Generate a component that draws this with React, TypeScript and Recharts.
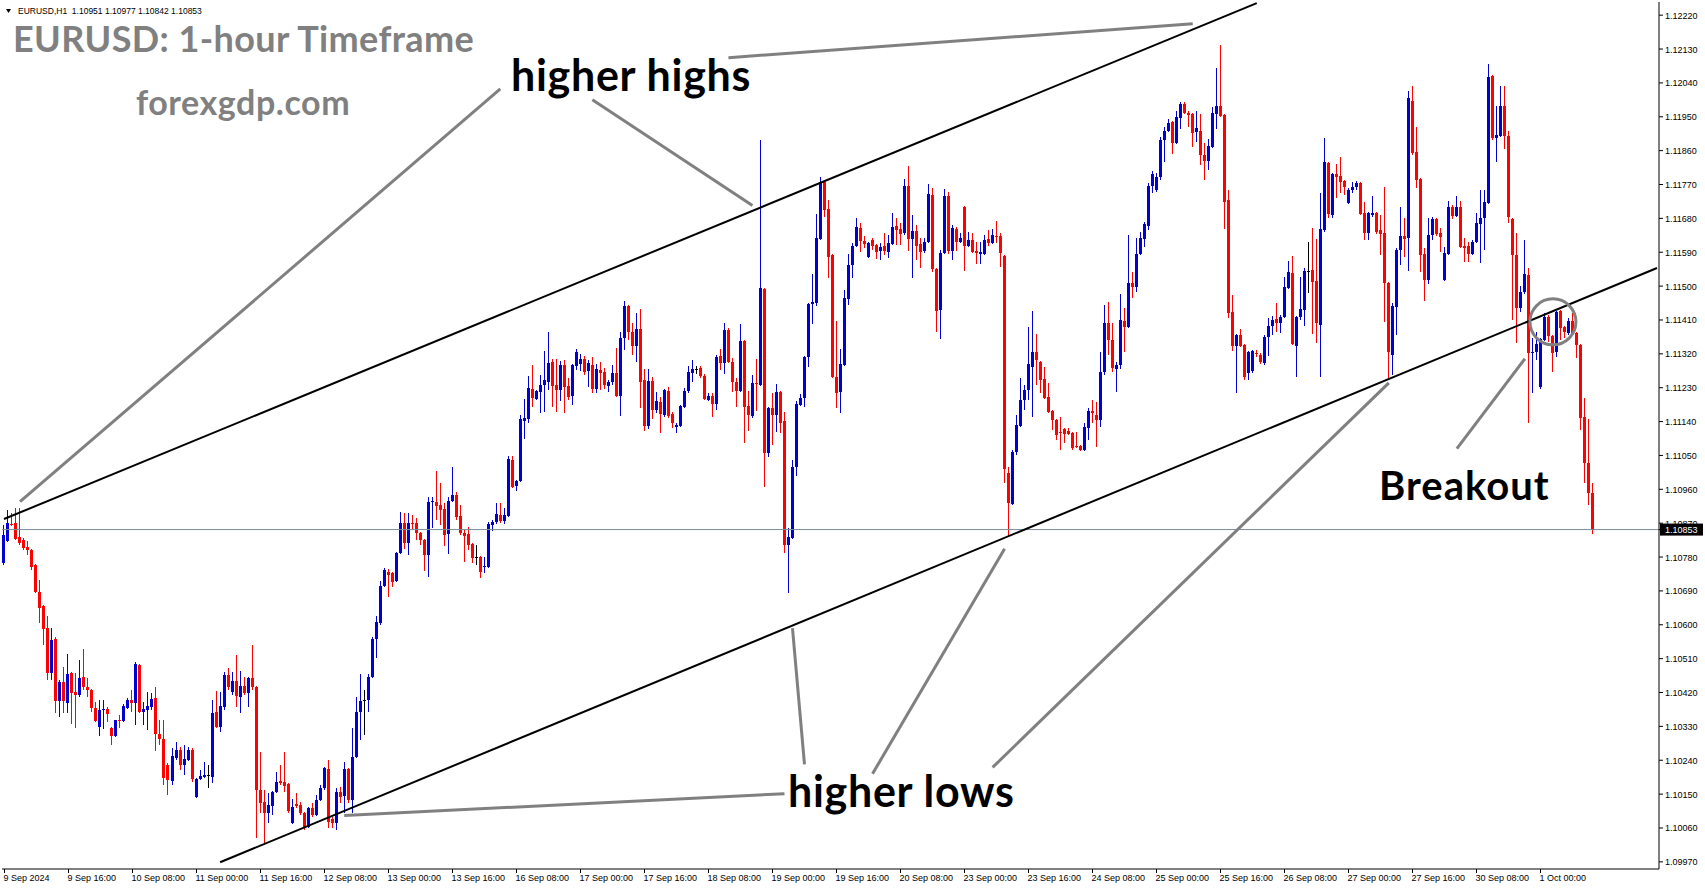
import React from "react";
import {
  ComposedChart,
  Bar,
  XAxis,
  YAxis,
  ReferenceLine,
  ReferenceDot,
} from "recharts";

// hourly EURUSD candles, 9 Sep 2024 00:00 .. 1 Oct 2024 13:00
const OPEN = [
  1.10764, 1.10823, 1.10868, 1.10871, 1.10833, 1.10826, 1.10807, 1.10799, 1.10759, 1.10688,
  1.1065, 1.10592, 1.10472, 1.10563, 1.10398, 1.10449, 1.10393, 1.10472, 1.10422, 1.10414,
  1.10461, 1.10435, 1.10427, 1.1038, 1.10328, 1.10374, 1.10377, 1.10326, 1.10305, 1.10347,
  1.10344, 1.1038, 1.10401, 1.10393, 1.10494, 1.10369, 1.10374, 1.10382, 1.10406, 1.1031,
  1.10297, 1.10228, 1.10185, 1.10247, 1.10268, 1.10228, 1.10241, 1.10268, 1.10142, 1.10191,
  1.10196, 1.10202, 1.10196, 1.10369, 1.10328, 1.10382, 1.10467, 1.10422, 1.10451, 1.10408,
  1.10438, 1.10419, 1.10459, 1.10435, 1.10161, 1.1013, 1.101, 1.10119, 1.10156, 1.10185,
  1.10183, 1.10177, 1.10074, 1.10124, 1.10122, 1.101, 1.10063, 1.10114, 1.10095, 1.10135,
  1.10167, 1.10217, 1.10084, 1.10074, 1.10156, 1.10145, 1.10217, 1.10135, 1.10249, 1.10369,
  1.10401, 1.10401, 1.10461, 1.10563, 1.10605, 1.10703, 1.10741, 1.10738, 1.10716, 1.10791,
  1.10871, 1.10818, 1.10871, 1.10871, 1.10844, 1.10826, 1.10786, 1.10927, 1.10927, 1.10919,
  1.10908, 1.10841, 1.10929, 1.10945, 1.10889, 1.10844, 1.10841, 1.10815, 1.1078, 1.1078,
  1.10753, 1.10753, 1.10866, 1.10874, 1.10892, 1.10876, 1.10889, 1.11038, 1.10969, 1.10982,
  1.11142, 1.11147, 1.11227, 1.112, 1.11219, 1.11238, 1.11246, 1.11299, 1.11238, 1.11224,
  1.11291, 1.11235, 1.11208, 1.11288, 1.11293, 1.11306, 1.11274, 1.11291, 1.11227, 1.11277,
  1.11272, 1.11235, 1.11246, 1.11269, 1.11208, 1.11362, 1.11447, 1.11379, 1.11341, 1.11386,
  1.11251, 1.11129, 1.11248, 1.11171, 1.11193, 1.11158, 1.11221, 1.1116, 1.11126, 1.11129,
  1.11179, 1.11221, 1.11269, 1.1128, 1.11283, 1.11261, 1.11198, 1.11208, 1.11187, 1.11314,
  1.11296, 1.11384, 1.11299, 1.11246, 1.11221, 1.11354, 1.11182, 1.11155, 1.11243, 1.11238,
  1.11493, 1.11057, 1.11177, 1.11158, 1.11219, 1.11142, 1.10813, 1.10831, 1.11019, 1.11185,
  1.11203, 1.11311, 1.11452, 1.11455, 1.11626, 1.11777, 1.11705, 1.11583, 1.11259, 1.11219,
  1.11291, 1.11466, 1.11557, 1.11607, 1.11655, 1.1162, 1.11577, 1.11623, 1.1161, 1.11593,
  1.11607, 1.11591, 1.11612, 1.1166, 1.11652, 1.11641, 1.11766, 1.11626, 1.11647, 1.11612,
  1.11593, 1.11618, 1.11743, 1.11546, 1.11437, 1.11588, 1.1174, 1.11593, 1.11652, 1.11618,
  1.1171, 1.11607, 1.11623, 1.11593, 1.11585, 1.11585, 1.11626, 1.11615, 1.11633, 1.11633,
  1.1158, 1.11004, 1.10921, 1.1106, 1.11129, 1.11198, 1.11224, 1.11285, 1.11325, 1.11299,
  1.11253, 1.11206, 1.11168, 1.11145, 1.11113, 1.11121, 1.11115, 1.1111, 1.11075, 1.11075,
  1.11065, 1.11124, 1.11168, 1.11158, 1.11145, 1.11272, 1.11402, 1.11357, 1.1128, 1.11291,
  1.11407, 1.11391, 1.11508, 1.11498, 1.11585, 1.11626, 1.1166, 1.11766, 1.11756, 1.1179,
  1.11888, 1.11912, 1.11936, 1.1188, 1.11947, 1.11984, 1.1196, 1.11957, 1.1191, 1.11912,
  1.11849, 1.11832, 1.11869, 1.11957, 1.11979, 1.11955, 1.11729, 1.11431, 1.11341, 1.11371,
  1.11344, 1.11269, 1.11274, 1.11322, 1.11317, 1.11296, 1.11365, 1.11394, 1.11413, 1.11402,
  1.11418, 1.11495, 1.11535, 1.11341, 1.11418, 1.11437, 1.1154, 1.11543, 1.11513, 1.11397,
  1.11649, 1.11827, 1.11689, 1.11798, 1.11793, 1.11779, 1.11721, 1.11756, 1.11764, 1.11774,
  1.11694, 1.11641, 1.11689, 1.11694, 1.11649, 1.11641, 1.11508, 1.11317, 1.11444, 1.11596,
  1.11633, 1.11628, 1.11992, 1.11857, 1.11785, 1.11585, 1.11516, 1.11636, 1.11678, 1.11641,
  1.11516, 1.11585, 1.1171, 1.11686, 1.1171, 1.11607, 1.11607, 1.11585, 1.11618, 1.11665,
  1.11681, 1.11721, 1.12058, 1.11893, 1.11899, 1.11979, 1.11899, 1.11678, 1.11583, 1.11442,
  1.11485, 1.1153, 1.11322, 1.11325, 1.11232, 1.11357, 1.11418, 1.11368, 1.11325, 1.11434,
  1.11392, 1.11376, 1.11407, 1.11376, 1.11344, 1.11153, 1.1103, 1.10951,
];

const HIGH = [
  1.10866, 1.10905, 1.10897, 1.10911, 1.10911, 1.10831, 1.10823, 1.10802, 1.10761, 1.10719,
  1.10653, 1.10624, 1.10592, 1.10568, 1.10454, 1.10488, 1.10522, 1.10475, 1.10472, 1.10507,
  1.10536, 1.10459, 1.1043, 1.10396, 1.10401, 1.10401, 1.10382, 1.10328, 1.10326, 1.10361,
  1.1039, 1.10406, 1.10427, 1.10502, 1.10496, 1.10396, 1.10422, 1.10419, 1.10435, 1.10347,
  1.10347, 1.10233, 1.10273, 1.10289, 1.10275, 1.10281, 1.10275, 1.10273, 1.10194, 1.10215,
  1.10236, 1.10228, 1.10401, 1.10424, 1.10422, 1.10475, 1.10486, 1.10475, 1.1052, 1.10477,
  1.10461, 1.10461, 1.10547, 1.10438, 1.10263, 1.10161, 1.10153, 1.10158, 1.1021, 1.10228,
  1.10263, 1.1018, 1.10137, 1.10153, 1.1013, 1.10103, 1.10116, 1.10127, 1.10148, 1.10175,
  1.10222, 1.10241, 1.10089, 1.10167, 1.10169, 1.10236, 1.1022, 1.10326, 1.10408, 1.10469,
  1.10427, 1.10469, 1.10568, 1.10624, 1.10716, 1.10751, 1.10748, 1.10741, 1.10794, 1.109,
  1.10897, 1.10897, 1.10892, 1.10884, 1.10847, 1.10828, 1.1094, 1.1094, 1.11009, 1.10977,
  1.10924, 1.1094, 1.11019, 1.10953, 1.10919, 1.10852, 1.1086, 1.10818, 1.10813, 1.10783,
  1.1078, 1.10874, 1.10879, 1.10924, 1.10924, 1.10911, 1.11049, 1.11049, 1.10985, 1.11158,
  1.112, 1.11261, 1.1129, 1.11224, 1.11264, 1.11327, 1.11379, 1.11306, 1.11306, 1.11301,
  1.11304, 1.11256, 1.11293, 1.11333, 1.11319, 1.11314, 1.11304, 1.11311, 1.11293, 1.11299,
  1.11283, 1.11251, 1.11291, 1.11336, 1.11379, 1.1146, 1.1145, 1.11402, 1.11429, 1.11439,
  1.1128, 1.1128, 1.11259, 1.11219, 1.11206, 1.11227, 1.11232, 1.11166, 1.11137, 1.11185,
  1.1123, 1.11288, 1.11304, 1.11288, 1.11288, 1.11266, 1.11216, 1.11216, 1.11317, 1.11333,
  1.11402, 1.11389, 1.11309, 1.11256, 1.11399, 1.11357, 1.11221, 1.11264, 1.11306, 1.11888,
  1.11495, 1.11179, 1.11216, 1.1124, 1.11221, 1.11166, 1.10858, 1.11038, 1.11195, 1.11214,
  1.11314, 1.11455, 1.11532, 1.11691, 1.1179, 1.11782, 1.11729, 1.11585, 1.11407, 1.11333,
  1.1149, 1.11585, 1.11615, 1.11681, 1.11668, 1.11633, 1.11618, 1.11628, 1.11612, 1.11615,
  1.11641, 1.11636, 1.11694, 1.11681, 1.11668, 1.11785, 1.11819, 1.11689, 1.11663, 1.11628,
  1.11628, 1.11772, 1.11761, 1.11548, 1.11596, 1.11758, 1.11751, 1.11663, 1.11657, 1.11641,
  1.11713, 1.11644, 1.11641, 1.11618, 1.11618, 1.11636, 1.11649, 1.11652, 1.11673, 1.11641,
  1.11583, 1.11019, 1.11065, 1.11158, 1.11256, 1.11237, 1.11391, 1.11434, 1.11373, 1.11301,
  1.11285, 1.11243, 1.11171, 1.11147, 1.11152, 1.11123, 1.11123, 1.11113, 1.11113, 1.11078,
  1.11137, 1.11177, 1.11198, 1.11193, 1.11325, 1.1145, 1.11458, 1.11402, 1.11299, 1.11479,
  1.11442, 1.11636, 1.11538, 1.11628, 1.11644, 1.1167, 1.11774, 1.11806, 1.11801, 1.11896,
  1.11923, 1.11944, 1.11939, 1.11965, 1.11989, 1.11989, 1.11965, 1.1196, 1.11965, 1.11957,
  1.1188, 1.11891, 1.11976, 1.1208, 1.12141, 1.11957, 1.11756, 1.11477, 1.11373, 1.11386,
  1.11346, 1.11328, 1.1133, 1.1133, 1.11322, 1.11371, 1.11416, 1.11421, 1.11455, 1.11424,
  1.11524, 1.11567, 1.1158, 1.11421, 1.11524, 1.11548, 1.11618, 1.11655, 1.11626, 1.11748,
  1.11894, 1.1183, 1.11801, 1.11824, 1.11843, 1.11782, 1.11761, 1.11777, 1.11779, 1.11777,
  1.11724, 1.11697, 1.1174, 1.11697, 1.11689, 1.11764, 1.11511, 1.11455, 1.11601, 1.1171,
  1.11681, 1.12018, 1.12032, 1.11923, 1.11788, 1.11601, 1.11681, 1.11684, 1.11681, 1.11655,
  1.11604, 1.11726, 1.11716, 1.1174, 1.11726, 1.11628, 1.11618, 1.11623, 1.11694, 1.11756,
  1.11756, 1.1209, 1.12061, 1.11979, 1.12032, 1.12032, 1.11912, 1.11681, 1.11641, 1.115,
  1.11623, 1.11548, 1.11362, 1.11378, 1.11362, 1.11429, 1.11424, 1.11371, 1.11434, 1.11437,
  1.11394, 1.11416, 1.11429, 1.11379, 1.11346, 1.11203, 1.11147, 1.10977,
];

const LOW = [
  1.10759, 1.10821, 1.10863, 1.10826, 1.10813, 1.10799, 1.10786, 1.10746, 1.10685, 1.10605,
  1.10547, 1.10454, 1.10454, 1.10366, 1.10355, 1.10366, 1.10366, 1.10336, 1.10326, 1.10408,
  1.10427, 1.10408, 1.10369, 1.10342, 1.10305, 1.10323, 1.10342, 1.10281, 1.10302, 1.10326,
  1.10342, 1.10377, 1.10369, 1.10334, 1.10366, 1.10334, 1.10321, 1.10374, 1.10265, 1.10281,
  1.10175, 1.10148, 1.10175, 1.10241, 1.10215, 1.10202, 1.10238, 1.10183, 1.1014, 1.10188,
  1.10194, 1.10167, 1.1018, 1.10326, 1.10316, 1.10374, 1.10427, 1.10414, 1.10382, 1.10366,
  1.10414, 1.10382, 1.10427, 1.10034, 1.101, 1.10021, 1.10074, 1.10095, 1.10153, 1.10175,
  1.10156, 1.101, 1.10071, 1.10114, 1.10095, 1.10055, 1.1006, 1.10089, 1.10092, 1.10132,
  1.10161, 1.10061, 1.10061, 1.10055, 1.10127, 1.101, 1.10127, 1.101, 1.10247, 1.10294,
  1.10308, 1.10369, 1.10459, 1.10512, 1.106, 1.107, 1.10674, 1.107, 1.10714, 1.10788,
  1.10802, 1.10786, 1.10852, 1.10826, 1.10813, 1.10743, 1.10727, 1.10858, 1.10879, 1.10866,
  1.1081, 1.10788, 1.10927, 1.10879, 1.10839, 1.10767, 1.10799, 1.10764, 1.10759, 1.10724,
  1.10738, 1.10751, 1.10849, 1.10868, 1.10871, 1.10868, 1.10887, 1.10964, 1.10956, 1.1098,
  1.11094, 1.11137, 1.11179, 1.11198, 1.11163, 1.11166, 1.11224, 1.11179, 1.11166, 1.11195,
  1.11163, 1.11198, 1.11185, 1.11277, 1.11274, 1.11264, 1.11232, 1.11216, 1.11216, 1.11224,
  1.11227, 1.11219, 1.11238, 1.11205, 1.11155, 1.1133, 1.11357, 1.11317, 1.11299, 1.11177,
  1.11115, 1.11121, 1.11147, 1.11163, 1.1111, 1.11152, 1.1115, 1.11124, 1.1111, 1.11126,
  1.11177, 1.11216, 1.11246, 1.11266, 1.11256, 1.11198, 1.11195, 1.11152, 1.11171, 1.11277,
  1.11266, 1.11296, 1.11219, 1.11179, 1.11219, 1.11083, 1.11115, 1.1115, 1.11168, 1.11235,
  1.10966, 1.11046, 1.11078, 1.11113, 1.1111, 1.10791, 1.10685, 1.10828, 1.10996, 1.11182,
  1.11179, 1.11285, 1.11399, 1.11447, 1.11623, 1.11683, 1.11522, 1.11256, 1.11177, 1.11163,
  1.11288, 1.1145, 1.11522, 1.11604, 1.11591, 1.11602, 1.11575, 1.11596, 1.11572, 1.1157,
  1.11583, 1.11575, 1.1161, 1.1161, 1.1161, 1.11636, 1.11593, 1.11522, 1.1157, 1.11548,
  1.11588, 1.11615, 1.11538, 1.11379, 1.11359, 1.11585, 1.11585, 1.1157, 1.11593, 1.11615,
  1.1154, 1.11604, 1.11588, 1.11559, 1.11559, 1.11583, 1.11607, 1.11612, 1.11615, 1.11551,
  1.10977, 1.10833, 1.10919, 1.11052, 1.11126, 1.11171, 1.11198, 1.11152, 1.11238, 1.11216,
  1.112, 1.11163, 1.11118, 1.11091, 1.11065, 1.11083, 1.11105, 1.11065, 1.1107, 1.11062,
  1.11062, 1.11091, 1.11137, 1.11073, 1.11126, 1.11264, 1.11317, 1.11272, 1.11219, 1.1128,
  1.11325, 1.11389, 1.11468, 1.11485, 1.11583, 1.11604, 1.11649, 1.11748, 1.11751, 1.11782,
  1.1183, 1.11909, 1.11851, 1.11877, 1.11917, 1.11957, 1.11923, 1.1187, 1.11883, 1.11822,
  1.11782, 1.11809, 1.11867, 1.11917, 1.11949, 1.11652, 1.11415, 1.11328, 1.11216, 1.11338,
  1.11251, 1.11251, 1.11269, 1.11311, 1.11293, 1.11291, 1.11314, 1.11371, 1.11379, 1.11376,
  1.11416, 1.11493, 1.11344, 1.11259, 1.1141, 1.11394, 1.11482, 1.11373, 1.11349, 1.11259,
  1.11644, 1.11681, 1.11681, 1.11734, 1.11748, 1.11743, 1.11718, 1.11748, 1.11756, 1.11689,
  1.11623, 1.11623, 1.11683, 1.11638, 1.11583, 1.11405, 1.11251, 1.11264, 1.11371, 1.11557,
  1.11577, 1.1154, 1.11849, 1.11761, 1.11538, 1.1146, 1.11505, 1.11623, 1.11633, 1.11591,
  1.11513, 1.11583, 1.11678, 1.11683, 1.11602, 1.11565, 1.11565, 1.11583, 1.11615, 1.11562,
  1.11596, 1.11718, 1.11888, 1.1183, 1.11896, 1.11864, 1.11668, 1.1141, 1.11349, 1.11431,
  1.11479, 1.11137, 1.11216, 1.11304, 1.11227, 1.11354, 1.11352, 1.11272, 1.11311, 1.11357,
  1.11362, 1.11371, 1.11371, 1.11309, 1.11118, 1.10977, 1.10919, 1.10842,
];

const CLOSE = [
  1.10839, 1.10871, 1.10866, 1.10828, 1.10818, 1.10805, 1.10799, 1.10753, 1.10688, 1.10645,
  1.10589, 1.10472, 1.1056, 1.10398, 1.10449, 1.10398, 1.10469, 1.10419, 1.10414, 1.10459,
  1.10435, 1.10427, 1.1038, 1.10344, 1.10374, 1.10377, 1.10363, 1.10305, 1.10347, 1.10344,
  1.10385, 1.10401, 1.10393, 1.10496, 1.10369, 1.10377, 1.10385, 1.10403, 1.1031, 1.10297,
  1.10194, 1.10188, 1.10252, 1.10268, 1.10228, 1.10244, 1.10268, 1.10191, 1.10191, 1.10199,
  1.10202, 1.10202, 1.10366, 1.10328, 1.10385, 1.10467, 1.10435, 1.10451, 1.10411, 1.10438,
  1.10419, 1.10459, 1.10435, 1.10161, 1.10127, 1.101, 1.10122, 1.10156, 1.10183, 1.1018,
  1.10172, 1.10105, 1.10116, 1.10119, 1.101, 1.10063, 1.10114, 1.10095, 1.10135, 1.10167,
  1.1022, 1.10077, 1.10074, 1.10156, 1.10142, 1.10217, 1.10135, 1.10249, 1.10369, 1.10398,
  1.10401, 1.10461, 1.10563, 1.10608, 1.10703, 1.10746, 1.10733, 1.10714, 1.10791, 1.10871,
  1.10818, 1.10871, 1.10868, 1.10844, 1.10826, 1.10786, 1.10927, 1.10929, 1.10916, 1.10905,
  1.10839, 1.10929, 1.10945, 1.10887, 1.10844, 1.10836, 1.10813, 1.10778, 1.1078, 1.10741,
  1.10756, 1.10868, 1.10874, 1.10895, 1.10876, 1.10892, 1.11041, 1.10966, 1.10982, 1.11147,
  1.1115, 1.1123, 1.11203, 1.11221, 1.11238, 1.11251, 1.11296, 1.11235, 1.11224, 1.11291,
  1.11232, 1.11206, 1.11291, 1.11325, 1.11306, 1.11272, 1.11296, 1.11227, 1.1128, 1.11269,
  1.11238, 1.11246, 1.11269, 1.11208, 1.11362, 1.11447, 1.11379, 1.11341, 1.11386, 1.11246,
  1.11129, 1.11248, 1.11171, 1.11195, 1.1116, 1.11224, 1.11155, 1.11137, 1.11132, 1.11182,
  1.11221, 1.11272, 1.1128, 1.1128, 1.11261, 1.112, 1.11208, 1.11187, 1.11311, 1.11296,
  1.11384, 1.11299, 1.11246, 1.11221, 1.11354, 1.11179, 1.11158, 1.11243, 1.1124, 1.11495,
  1.11057, 1.11177, 1.11158, 1.11219, 1.11137, 1.10813, 1.10833, 1.11019, 1.11187, 1.11203,
  1.11311, 1.11452, 1.11458, 1.11628, 1.11777, 1.11702, 1.11577, 1.11259, 1.11216, 1.11293,
  1.11468, 1.11557, 1.11607, 1.11657, 1.1162, 1.11612, 1.11615, 1.11607, 1.11591, 1.11604,
  1.11593, 1.11615, 1.11657, 1.11649, 1.11638, 1.11766, 1.11626, 1.11647, 1.11607, 1.11591,
  1.11618, 1.11745, 1.11546, 1.11434, 1.11588, 1.1174, 1.11593, 1.11655, 1.11618, 1.11628,
  1.11607, 1.11623, 1.11591, 1.11588, 1.11591, 1.11623, 1.11615, 1.11636, 1.11631, 1.11588,
  1.11014, 1.10924, 1.1106, 1.11131, 1.11198, 1.11224, 1.11293, 1.11325, 1.11304, 1.11251,
  1.11203, 1.11166, 1.11145, 1.11105, 1.1111, 1.11107, 1.11107, 1.1107, 1.11073, 1.11065,
  1.11126, 1.11168, 1.11163, 1.11145, 1.11272, 1.11402, 1.11357, 1.11283, 1.11291, 1.1141,
  1.11391, 1.11508, 1.11498, 1.11585, 1.11628, 1.11665, 1.11766, 1.11798, 1.1179, 1.11888,
  1.11912, 1.11933, 1.1188, 1.11949, 1.11984, 1.1196, 1.11955, 1.11907, 1.1192, 1.11849,
  1.11832, 1.11872, 1.1196, 1.11979, 1.11952, 1.11724, 1.11429, 1.11341, 1.11371, 1.11341,
  1.11259, 1.11325, 1.11328, 1.11319, 1.11299, 1.11365, 1.11394, 1.1141, 1.11402, 1.11418,
  1.11498, 1.11538, 1.11346, 1.11418, 1.11439, 1.1154, 1.1154, 1.11511, 1.11402, 1.11652,
  1.1183, 1.11692, 1.11798, 1.1179, 1.11777, 1.11764, 1.11756, 1.11764, 1.11774, 1.11692,
  1.11641, 1.11694, 1.11694, 1.11644, 1.11638, 1.11508, 1.11325, 1.11447, 1.11596, 1.11633,
  1.11626, 1.12, 1.11854, 1.11782, 1.11583, 1.11516, 1.11636, 1.11678, 1.11638, 1.11631,
  1.11588, 1.1171, 1.11686, 1.1171, 1.11604, 1.11602, 1.11585, 1.11618, 1.11668, 1.11681,
  1.11724, 1.12055, 1.11893, 1.11902, 1.11979, 1.11899, 1.11683, 1.11583, 1.11442, 1.11485,
  1.11532, 1.11322, 1.11325, 1.11346, 1.11359, 1.11418, 1.11368, 1.11322, 1.11431, 1.11389,
  1.11379, 1.11407, 1.11376, 1.11344, 1.1115, 1.1103, 1.1095, 1.10853,
];

// time labels, one every 16 bars
const TIME_LABELS = [
  "9 Sep 2024", "9 Sep 16:00", "10 Sep 08:00", "11 Sep 00:00", "11 Sep 16:00",
  "12 Sep 08:00", "13 Sep 00:00", "13 Sep 16:00", "16 Sep 08:00", "17 Sep 00:00",
  "17 Sep 16:00", "18 Sep 08:00", "19 Sep 00:00", "19 Sep 16:00", "20 Sep 08:00",
  "23 Sep 00:00", "23 Sep 16:00", "24 Sep 08:00", "25 Sep 00:00", "25 Sep 16:00",
  "26 Sep 08:00", "27 Sep 00:00", "27 Sep 16:00", "30 Sep 08:00", "1 Oct 00:00",
];

const PRICE_TICKS = [
  1.0997, 1.1006, 1.1015, 1.1024, 1.1033, 1.1042, 1.1051, 1.106, 1.1069, 1.1078,
  1.1087, 1.1096, 1.1105, 1.1114, 1.1123, 1.1132, 1.1141, 1.115, 1.1159, 1.1168,
  1.1177, 1.1186, 1.1195, 1.1204, 1.1213, 1.1222,
];
const LAST_PRICE = 1.10853;
const PRICE_MIN = 1.09951;
const PRICE_MAX = 1.12255;
const SLOTS = 414;

// channel lines: [barIndex, price]
const UPPER_CHANNEL = [[0, 1.10881], [313, 1.12252]];
const LOWER_CHANNEL = [[54, 1.09969], [413, 1.11548]];

// grey pointer lines from the notes to the swing points
const POINTERS = [
  [[4, 1.10927], [124, 1.12024]],
  [[181, 1.12107], [297, 1.12197]],
  [[147, 1.11995], [187, 1.11714]],
  [[85, 1.10093], [195, 1.10151]],
  [[197, 1.10591], [200, 1.10229]],
  [[217, 1.10204], [250, 1.10802]],
  [[247, 1.10221], [346, 1.11243]],
  [[363, 1.11068], [380, 1.11307]],
];
const BREAKOUT_CIRCLE = [387, 1.11405];

const BULL = "#0000d2";
const BEAR = "#ff0000";
const DOJI = "#000000";
const NOTE_GREY = "#808080";
const AXIS_FONT = "'Liberation Sans', Arial, sans-serif";
const NOTE_FONT = "Lato, 'Open Sans', sans-serif";

const rows = Array.from({ length: SLOTS }, (_, i) =>
  i < OPEN.length
    ? { i, range: [LOW[i], HIGH[i]], o: OPEN[i], h: HIGH[i], l: LOW[i], c: CLOSE[i] }
    : { i, range: null },
);

function Candle(props: any) {
  const { x, y, width, height } = props;
  const d = props.payload ?? props;
  if (d == null || d.o == null || !isFinite(y) || !isFinite(height)) return null;
  const { o, h, l, c } = d;
  const span = h - l;
  const toY = (v: number) => (span > 0 ? y + ((h - v) / span) * height : y);
  const cx = Math.floor(x + width / 2) + 0.5;
  const color = c > o ? BULL : c < o ? BEAR : DOJI;
  const top = Math.round(toY(Math.max(o, c)));
  const bot = Math.round(toY(Math.min(o, c)));
  return (
    <g>
      <line x1={cx} x2={cx} y1={Math.round(y)} y2={Math.round(y + height)} stroke={color} strokeWidth={1} />
      <rect x={cx - 1.5} y={top} width={3} height={Math.max(1, bot - top)} fill={color} shapeRendering="crispEdges" />
    </g>
  );
}

function PriceTick(props: any) {
  const { x, y, payload } = props;
  const v = payload.value as number;
  if (v === LAST_PRICE) {
    return (
      <g>
        <rect x={x - 5} y={y - 6} width={43} height={12} fill="#000" />
        <text x={x} y={y} dy={3.5} fill="#fff" fontSize={9} fontFamily={AXIS_FONT}>
          {v.toFixed(5)}
        </text>
      </g>
    );
  }
  return (
    <text x={x} y={y} dy={3.5} fill="#000" fontSize={9} fontFamily={AXIS_FONT}>
      {v.toFixed(5)}
    </text>
  );
}

function TimeTick(props: any) {
  const { x, y, payload } = props;
  const i = payload.value as number;
  if (i % 16 !== 0) return null;
  const label = TIME_LABELS[i / 16];
  if (!label) return null;
  const tx = Math.floor(x) + 0.5;
  return (
    <g>
      <line x1={tx} x2={tx} y1={y - 4} y2={y} stroke="#000" />
      <text x={tx - 1} y={y + 8} fill="#000" fontSize={9} fontFamily={AXIS_FONT}>
        {label}
      </text>
    </g>
  );
}

const seg = (p: number[][]) => [
  { x: p[0][0], y: p[0][1] },
  { x: p[1][0], y: p[1][1] },
];

export default function App() {
  return (
    <div style={{ position: "absolute", left: 0, top: 0, width: 1705, height: 888, background: "#fff" }}>
      <ComposedChart
        width={1705}
        height={888}
        data={rows}
        margin={{ top: 2, right: 0, left: 2, bottom: 0 }}
      >
        <XAxis
          dataKey="i"
          type="category"
          interval={15}
          height={19}
          tickSize={4}
          tickMargin={0}
          tickLine={false}
          axisLine={{ stroke: "#000" }}
          tick={<TimeTick />}
        />
        <XAxis xAxisId="top" dataKey="i" orientation="top" height={0} tick={false} tickLine={false} axisLine={{ stroke: "#000" }} />
        <YAxis
          type="number"
          orientation="right"
          domain={[PRICE_MIN, PRICE_MAX]}
          allowDataOverflow
          ticks={[...PRICE_TICKS, LAST_PRICE]}
          interval={0}
          width={46}
          tickSize={4}
          tickMargin={2}
          tickLine={{ stroke: "#000" }}
          axisLine={{ stroke: "#000" }}
          tick={<PriceTick />}
        />
        <YAxis yAxisId="frame" orientation="left" width={0} tick={false} tickLine={false} axisLine={{ stroke: "#000" }} />
        <ReferenceLine y={LAST_PRICE} stroke="#7b8a9b" strokeWidth={1} />
        <Bar dataKey="range" shape={<Candle />} isAnimationActive={false} />
        <ReferenceLine segment={seg(UPPER_CHANNEL)} stroke="#000" strokeWidth={2} ifOverflow="visible" />
        <ReferenceLine segment={seg(LOWER_CHANNEL)} stroke="#000" strokeWidth={2} ifOverflow="visible" />
        {POINTERS.map((p, k) => (
          <ReferenceLine key={k} segment={seg(p)} stroke={NOTE_GREY} strokeWidth={3} ifOverflow="visible" />
        ))}
        <ReferenceDot
          x={BREAKOUT_CIRCLE[0]}
          y={BREAKOUT_CIRCLE[1]}
          r={23}
          fill="none"
          stroke={NOTE_GREY}
          strokeWidth={3}
          ifOverflow="visible"
        />
      </ComposedChart>
      <svg width={1705} height={888} style={{ position: "absolute", left: 0, top: 0, pointerEvents: "none" }}>
        <polygon points="6,9 11,9 8.5,13" fill="#000" />
        <text x={18} y={14} fontSize={8.5} fontFamily={AXIS_FONT} fill="#000" style={{ whiteSpace: "pre" }}>
          {"EURUSD,H1  1.10951 1.10977 1.10842 1.10853"}
        </text>
        <text x={13} y={52} fontSize={36} fontWeight={700} letterSpacing={0.4} fontFamily={NOTE_FONT} fill={NOTE_GREY}>
          EURUSD: 1-hour Timeframe
        </text>
        <text x={136} y={115} fontSize={34} fontWeight={700} letterSpacing={0.55} fontFamily={NOTE_FONT} fill={NOTE_GREY}>
          forexgdp.com
        </text>
        <text x={511} y={91} fontSize={43} fontWeight={700} letterSpacing={0.7} fontFamily={NOTE_FONT} fill="#000">
          higher highs
        </text>
        <text x={788} y={807} fontSize={43} fontWeight={700} letterSpacing={0.7} fontFamily={NOTE_FONT} fill="#000">
          higher lows
        </text>
        <text x={1379} y={500} fontSize={40} fontWeight={700} letterSpacing={1} fontFamily={NOTE_FONT} fill="#000">
          Breakout
        </text>
      </svg>
    </div>
  );
}
